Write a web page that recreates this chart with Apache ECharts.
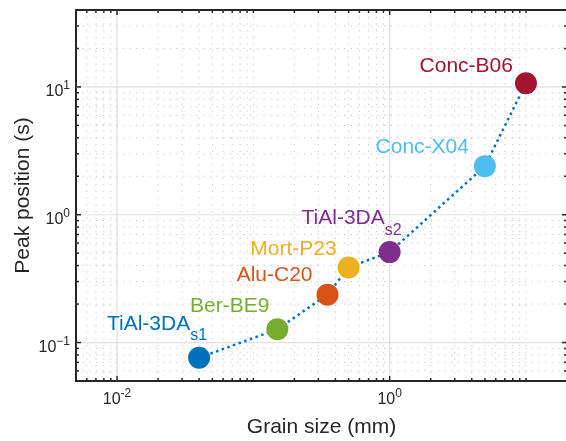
<!DOCTYPE html>
<html><head><meta charset="utf-8">
<script src="https://cdn.jsdelivr.net/npm/echarts@6/dist/echarts.min.js"></script>
<style>html,body{margin:0;padding:0;background:#fff}#c{width:566px;height:441px}</style>
</head><body><div id="c"></div>
<script>
// ---- data ----
const labelMain = ['TiAl-3DA', 'Ber-BE9', 'Alu-C20', 'Mort-P23', 'TiAl-3DA', 'Conc-X04', 'Conc-B06'];
const labelSub  = ['s1', '', '', '', 's2', '', ''];
const grainSize    = [0.04, 0.15, 0.35, 0.50, 1.0, 5.0, 10.0];
const peakPosition = [0.076, 0.127, 0.237, 0.387, 0.51, 2.4, 10.7];
const xMajorTicks = [0.01, 1];
const xMinorTicks = [0.006, 0.007, 0.008, 0.009,
  0.02, 0.03, 0.04, 0.05, 0.06, 0.07, 0.08, 0.09, 0.1,
  0.2, 0.3, 0.4, 0.5, 0.6, 0.7, 0.8, 0.9,
  2, 3, 4, 5, 6, 7, 8, 9, 10];
const yMajorTicks = [0.1, 1, 10];
const yMinorTicks = [0.06, 0.07, 0.08, 0.09,
  0.2, 0.3, 0.4, 0.5, 0.6, 0.7, 0.8, 0.9,
  2, 3, 4, 5, 6, 7, 8, 9, 20, 30];
const X_MIN = 0.005, X_MAX = 20, Y_MIN = 0.05, Y_MAX = 40;

// ---- styles ----
const pointColors = ['#0072BD', '#77AC30', '#D95319', '#EDB120', '#7E2F8E', '#4DBEEE', '#A2142F'];
const labelOffsets = [[8, -33], [-8, -23], [-15, -19], [-12, -18], [12, -33], [-16, -18], [-13, -16]];
const FONT = "'Liberation Sans', Arial, Helvetica, sans-serif";
const AX = '#262626';

function expOf(v) { const e = Math.log10(v); return Math.abs(e - Math.round(e)) < 1e-6 ? Math.round(e) : null; }
const tickRich = {
  b: { fontSize: 16, fontFamily: FONT, color: AX, lineHeight: 16, padding: [5, 0, 0, 0], verticalAlign: 'top' },
  e: { fontSize: 12, fontFamily: FONT, color: AX, lineHeight: 12, padding: [1, 0, 0, 0], verticalAlign: 'top' }
};
function fmtX(v) { const e = expOf(v); if (e === null || e % 2 !== 0) return ''; return '{b|10}{e|' + String(e) + '}'; }
function fmtY(v) { const e = expOf(v); if (e === null) return ''; return '{b|10}{e|' + String(e).replace('-', '\u2212') + '}'; }

function tickEls(x1, y1, x2, y2) { return { type: 'line', shape: { x1, y1, x2, y2 }, style: { stroke: AX, lineWidth: 1.5 } }; }
const majorGrid = { stroke: '#e0e0e0', lineWidth: 1.2 };
const minorGrid = { stroke: '#c4c4c4', lineWidth: 1, lineDash: [1.2, 5.5] };

function renderXTick(params, api) {
  const cs = params.coordSys;
  const major = api.value(2) === 1;
  const x = api.coord([api.value(0), Y_MIN])[0];
  const top = cs.y, bottom = cs.y + cs.height, len = major ? 5 : 3;
  return { type: 'group', children: [
    { type: 'line', shape: { x1: x, y1: top, x2: x, y2: bottom }, style: major ? majorGrid : minorGrid },
    tickEls(x, bottom, x, bottom - len), tickEls(x, top, x, top + len)
  ] };
}
function renderYTick(params, api) {
  const cs = params.coordSys;
  const major = api.value(2) === 1;
  const y = api.coord([X_MIN, api.value(1)])[1];
  const left = cs.x, right = cs.x + cs.width, len = major ? 5 : 3;
  return { type: 'group', children: [
    { type: 'line', shape: { x1: left, y1: y, x2: right, y2: y }, style: major ? majorGrid : minorGrid },
    tickEls(left, y, left + len, y), tickEls(right, y, right - len, y)
  ] };
}

const xTickData = xMajorTicks.map(v => [v, Y_MIN, 1]).concat(xMinorTicks.map(v => [v, Y_MIN, 0]));
const yTickData = yMajorTicks.map(v => [X_MIN, v, 1]).concat(yMinorTicks.map(v => [X_MIN, v, 0]));

const chart = echarts.init(document.getElementById('c'), null, { renderer: 'canvas' });
chart.setOption({
  animation: false,
  backgroundColor: '#fff',
  grid: { left: 76, top: 10, right: -1, bottom: 60, show: true, borderColor: AX, borderWidth: 2, backgroundColor: 'transparent', containLabel: false, outerBoundsMode: 'none' },
  xAxis: {
    type: 'log', logBase: 10, min: X_MIN, max: X_MAX,
    axisLine: { show: false }, axisTick: { show: false }, splitLine: { show: false },
    axisLabel: { margin: 6, formatter: fmtX, rich: tickRich, showMinLabel: true, showMaxLabel: true },
    name: 'Grain size (mm)', nameLocation: 'middle', nameGap: 36, nameMoveOverlap: false,
    nameTextStyle: { fontSize: 21, fontFamily: FONT, color: AX }
  },
  yAxis: {
    type: 'log', logBase: 10, min: Y_MIN, max: Y_MAX,
    axisLine: { show: false }, axisTick: { show: false }, splitLine: { show: false },
    axisLabel: { margin: 6, formatter: fmtY, rich: tickRich },
    name: 'Peak position (s)', nameLocation: 'middle', nameGap: 42, nameMoveOverlap: false,
    nameTextStyle: { fontSize: 21, fontFamily: FONT, color: AX }
  },
  series: [
    { type: 'custom', renderItem: renderXTick, data: xTickData, encode: { x: 0, y: 1 }, silent: true, clip: false, z: 1 },
    { type: 'custom', renderItem: renderYTick, data: yTickData, encode: { x: 0, y: 1 }, silent: true, clip: false, z: 1 },
    {
      type: 'line', data: grainSize.map((x, i) => [x, peakPosition[i]]), symbol: 'none', silent: true, z: 2,
      lineStyle: { color: '#0072BD', width: 2.5, type: [2.5, 3.5] }
    },
    {
      type: 'scatter', symbolSize: 22, z: 3,
      data: grainSize.map((x, i) => ({
        value: [x, peakPosition[i]],
        itemStyle: { color: pointColors[i], opacity: 1 },
        label: {
          color: pointColors[i], offset: labelOffsets[i],
          formatter: labelSub[i] ? '{m|' + labelMain[i] + '}{s|' + labelSub[i] + '}' : '{m|' + labelMain[i] + '}'
        }
      })),
      label: {
        show: true, position: 'inside', align: 'right', verticalAlign: 'middle',
        fontSize: 21, fontFamily: FONT, textBorderWidth: 0,
        rich: {
          m: { fontSize: 21, fontFamily: FONT, lineHeight: 22, verticalAlign: 'top' },
          s: { fontSize: 16, fontFamily: FONT, lineHeight: 16, padding: [14, 0, 0, 0], verticalAlign: 'top' }
        }
      }
    }
  ]
});
</script></body></html>
